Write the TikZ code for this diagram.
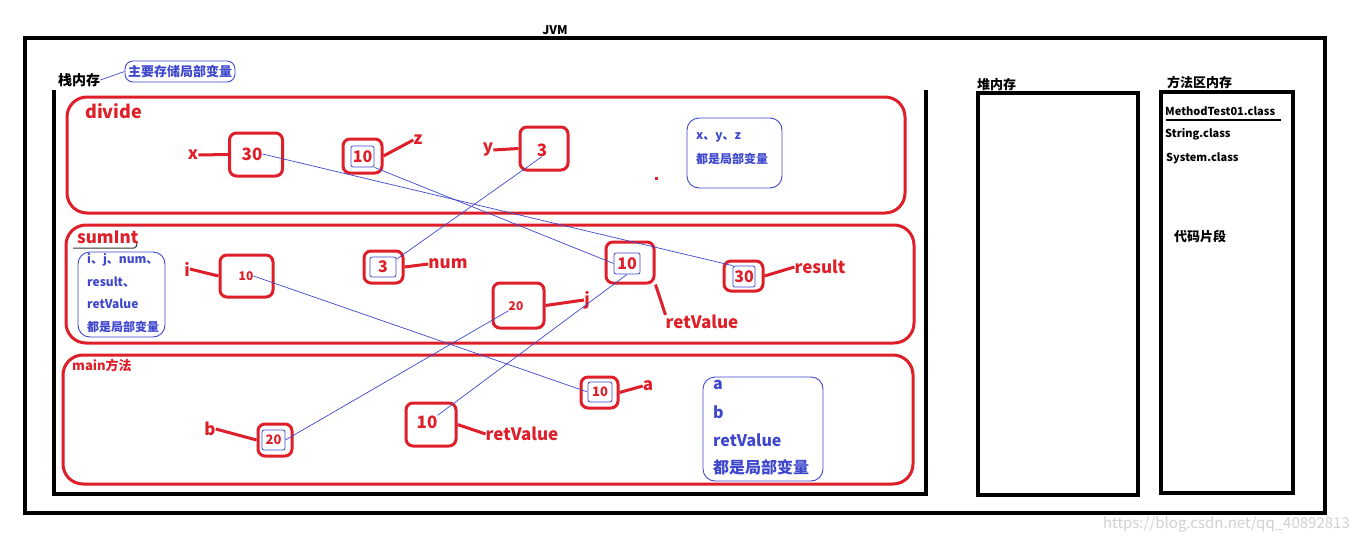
\documentclass[tikz,border=0pt]{standalone}
\usepackage{fontspec}
\setmainfont{Noto Sans CJK SC}
\definecolor{pred}{RGB}{222,30,40}
\definecolor{pblue}{RGB}{63,72,204}
\newcommand{\fs}[1]{\fontsize{#1}{#1}\selectfont}
\begin{document}
\begin{tikzpicture}[x=1pt,y=-1pt,
  rbox/.style={draw=pred,line width=3pt,rounded corners=7pt,inner sep=0pt},
  ibox/.style={draw=pblue,line width=0.8pt,rounded corners=2pt,inner sep=0pt,text=pred,font=\bfseries\fs{16}},
  frame/.style={draw=pred,line width=3pt,rounded corners=20pt},
  lbl/.style={text=pred,font=\bfseries\fs{17},inner sep=0pt},
  val/.style={text=pred,font=\bfseries\fs{17},inner sep=0pt},
  sval/.style={text=pred,font=\bfseries\fs{12},inner sep=0pt},
  lead/.style={draw=pred,line width=3pt},
  conn/.style={draw=pblue,line width=0.7pt},
  note/.style={draw=pblue,line width=0.9pt,rounded corners=12pt},
  ntext/.style={text=pblue,font=\bfseries\fs{12},anchor=west,inner sep=0pt},
  blk/.style={text=black,font=\bfseries\fs{13},anchor=west,inner sep=0pt},
  cls/.style={text=black,font=\bfseries\fs{11},anchor=west,inner sep=0pt}]
\useasboundingbox (0,0) rectangle (1358,541);
\fill[white] (0,0) rectangle (1358,541);

% JVM
\node[font=\bfseries\fs{12}] (jvm) at (555,30) {JVM};
\draw[line width=4pt] (25,38) rectangle (1325,513);

% stack area
\draw[line width=3.5pt] (54,90) -- (54,494) -- (926,494) -- (926,90);
\node[blk,font=\bfseries\fs{14}] (stk) at (58,80) {栈内存};
\node[draw=pblue,line width=0.9pt,rounded corners=8pt,minimum width=110,minimum height=21,inner sep=0pt,text=pblue,font=\bfseries\fs{13}] (bub) at (180,71.5) {主要存储局部变量};
\draw[conn] (stk.east) -- (bub.west);

% frames
\draw[frame] (67,97) rectangle (905,213);
\draw[frame] (66,225) rectangle (914,343);
\draw[frame] (63,355) rectangle (913,484);

\node[lbl,anchor=west,font=\bfseries\fs{18}] (fdiv) at (85,111) {divide};
\node[lbl,anchor=west,font=\bfseries\fs{17}] (fsum) at (77,237) {sumInt};
\draw[line width=1pt,draw=black!80] (73,248) -- (134,248) to[out=0,in=-90] (137,243);
\node[lbl,anchor=west,font=\bfseries\fs{13}] (fmain) at (72,365) {main方法};

% ---------- divide ----------
\node[rbox,minimum width=53,minimum height=43] (bx) at (256,154.5) {};
\node[val] (vx) at (252,154) {30};
\node[lbl] (lx) at (193,155) {x};
\draw[lead] (lx.east) -- (bx.west);

\node[rbox,minimum width=39,minimum height=34] (bz) at (362.5,156) {};
\node[ibox,minimum width=23,minimum height=21] (zi) at (362.5,156.5) {10};
\node[lbl] (lz) at (418,140) {z};
\draw[lead] (bz.east) -- (lz.west);

\node[rbox,minimum width=48,minimum height=43] (by) at (544,148.5) {};
\node[val] (vy) at (542,150) {3};
\node[lbl] (ly) at (488,150) {y};
\draw[lead] (ly.east) -- (by.west);

\fill[pred] (654.5,176.5) rectangle (657.5,179.5);

\node[note,minimum width=95,minimum height=70] (ndiv) at (734.5,153) {};
\node[ntext] (nd1) at (696,137) {x、y、z};
\node[ntext] (nd2) at (696,159) {都是局部变量};

% ---------- sumInt ----------
\node[note,minimum width=87,minimum height=85] (nsum) at (121.5,294.5) {};
\node[ntext] (ns1) at (87,260) {i、j、num、};
\node[ntext] (ns2) at (87,282) {result、};
\node[ntext] (ns3) at (87,304) {retValue};
\node[ntext] (ns4) at (87,327) {都是局部变量};

\node[rbox,minimum width=53,minimum height=42] (bi) at (246.5,276) {};
\node[sval] (vi) at (246,276) {10};
\node[lbl] (li) at (187,269) {i};
\draw[lead] (li.east) -- (bi.west);

\node[rbox,minimum width=39,minimum height=32] (bn) at (383.5,267) {};
\node[ibox,minimum width=26,minimum height=20] (ni) at (383,267) {3};
\node[lbl] (ln) at (448,264) {num};
\draw[lead] (bn.east) -- (ln.west);

\node[rbox,minimum width=48,minimum height=41] (brv) at (630,262.5) {};
\node[ibox,minimum width=26,minimum height=21] (rvi) at (627,263.5) {10};
\node[lbl] (lrv) at (702,322) {retValue};
\draw[lead] (brv.south east) -- (lrv.north west);

\node[rbox,minimum width=39,minimum height=30] (br) at (743.5,276) {};
\node[ibox,minimum width=22,minimum height=21] (rr) at (744,276.5) {30};
\node[lbl] (lr) at (820,267) {result};
\draw[lead] (br.east) -- (lr.west);

\node[rbox,minimum width=51,minimum height=45] (bj) at (518.5,305.5) {};
\node[sval] (vj) at (516,306) {20};
\node[lbl] (lj) at (587,300) {j};
\draw[lead] (bj.east) -- (lj.west);

% ---------- main ----------
\node[note,minimum width=120,minimum height=104] (nmain) at (763,429) {};
\node[ntext,font=\bfseries\fs{16}] (nm1) at (713,385) {a};
\node[ntext,font=\bfseries\fs{16}] (nm2) at (713,412) {b};
\node[ntext,font=\bfseries\fs{16}] (nm3) at (713,440) {retValue};
\node[ntext,font=\bfseries\fs{16}] (nm4) at (713,467) {都是局部变量};

\node[rbox,minimum width=34,minimum height=32] (bb) at (275,440) {};
\node[ibox,minimum width=23,minimum height=20,font=\bfseries\fs{13}] (bi2) at (273.5,440) {20};
\node[lbl] (lb) at (210,429) {b};
\draw[lead] (lb.east) -- (bb.west);

\node[rbox,minimum width=50,minimum height=43] (bm) at (431,424.5) {};
\node[val] (vm) at (427,422) {10};
\node[lbl] (lm) at (522,434) {retValue};
\draw[lead] (bm.east) -- (lm.west);

\node[rbox,minimum width=37,minimum height=31] (ba) at (599.5,392.5) {};
\node[ibox,minimum width=24,minimum height=20,font=\bfseries\fs{13}] (ai) at (600,392) {10};
\node[lbl] (la) at (648,386) {a};
\draw[lead] (ba.east) -- (la.west);

% ---------- connectors ----------
\draw[conn] (vx.east) -- (rr.north west);
\draw[conn] (zi.south east) -- (rvi.west);
\draw[conn] (vy.south) -- (ni.30);
\draw[conn] (vi.east) -- (ai.west);
\draw[conn] (vj.south west) -- (bi2.east);
\draw[conn] (rvi.south) -- (vm.north east);

% ---------- heap & method area ----------
\node[blk] (lheap) at (977,85) {堆内存};
\draw[line width=3.5pt] (978,93) rectangle (1138,495);
\node[blk] (lmeth) at (1167,82) {方法区内存};
\draw[line width=3.5pt] (1161,92) rectangle (1293,493);
\node[cls] (c1) at (1165,111) {MethodTest01.class};
\draw[line width=2.5pt] (1166,120) -- (1281,120);
\node[cls] (c2) at (1165,134) {String.class};
\node[cls] (c3) at (1166,158) {System.class};
\node[blk] (code) at (1174,237) {代码片段};

\node[text=black!18,font=\fs{15},anchor=east,inner sep=0pt] (wm) at (1350,524) {https://blog.csdn.net/qq\_40892813};
\end{tikzpicture}
\end{document}
